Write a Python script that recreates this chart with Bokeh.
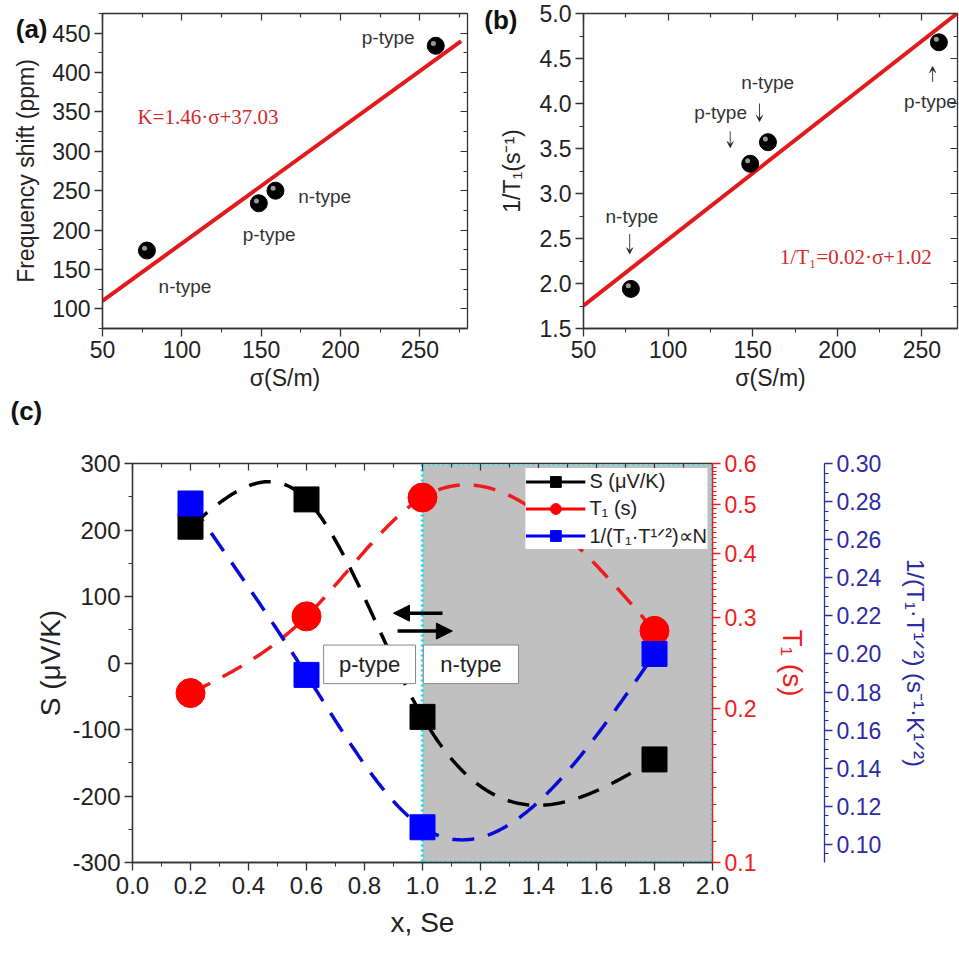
import numpy as np
from bokeh.plotting import figure
from bokeh.layouts import column, row
from bokeh.models import (Range1d, LinearAxis, LogAxis, LogScale, FixedTicker,
                          SingleIntervalTicker, PrintfTickFormatter, Label, Arrow,
                          NormalHead, VeeHead, Legend, LegendItem, Title)
from bokeh.embed import file_html
from bokeh.resources import INLINE

FONT = "Liberation Sans"
SERIF = "Liberation Serif"
INK = "#222222"

# ---------------- data: panels (a) and (b) ----------------
sigma = [78, 148.5, 159, 260]            # S/m
freq_shift = [174, 234, 250, 434]        # ppm
inv_T1 = [1.94, 3.33, 3.57, 4.68]        # 1/s
fit_a = (1.46, 37.03)                    # slope, intercept  (K = 1.46*sigma + 37.03)
fit_b = (0.0147, 1.02)                   # slope, intercept of drawn line in (b)
fit_a_span = [50, 276]
fit_b_span = [50, 271]

# ---------------- data: panel (c) ----------------
x_se = [0.2, 0.6, 1.0, 1.8]
seebeck = [205, 246, -81, -145]          # S (uV/K)
t1 = [0.214, 0.302, 0.515, 0.283]        # T1 (s)
korringa = [0.279, 0.189, 0.109, 0.200]  # 1/(T1*T^1/2)

t1_major = [0.1, 0.2, 0.3, 0.4, 0.5, 0.6]
t1_minor = [round(0.1 + 0.01 * i, 2) for i in range(51) if i % 10]


def natural_spline(xs, ys, n=300):
    xs = np.asarray(xs, float)
    ys = np.asarray(ys, float)
    k = len(xs)
    h = np.diff(xs)
    A = np.zeros((k, k))
    r = np.zeros(k)
    A[0, 0] = A[-1, -1] = 1.0
    for i in range(1, k - 1):
        A[i, i - 1] = h[i - 1]
        A[i, i] = 2 * (h[i - 1] + h[i])
        A[i, i + 1] = h[i]
        r[i] = 6 * ((ys[i + 1] - ys[i]) / h[i] - (ys[i] - ys[i - 1]) / h[i - 1])
    M = np.linalg.solve(A, r)
    xx = np.linspace(xs[0], xs[-1], n)
    idx = np.clip(np.searchsorted(xs, xx) - 1, 0, k - 2)
    x0, x1 = xs[idx], xs[idx + 1]
    hh = x1 - x0
    a = (x1 - xx) / hh
    b = (xx - x0) / hh
    yy = a * ys[idx] + b * ys[idx + 1] + ((a ** 3 - a) * M[idx] + (b ** 3 - b) * M[idx + 1]) * hh ** 2 / 6
    return xx, yy


def style_axis(ax, tick_size, title_size, color="#333333", label_color=INK):
    ax.axis_line_color = color
    ax.axis_line_width = 1.3
    ax.major_tick_line_color = color
    ax.minor_tick_line_color = color
    ax.major_tick_line_width = 1.3
    ax.major_tick_out = 8
    ax.major_tick_in = 0
    ax.minor_tick_out = 4
    ax.minor_tick_in = 0
    ax.major_label_text_font = FONT
    ax.major_label_text_font_size = tick_size
    ax.major_label_text_color = label_color
    ax.axis_label_text_font = FONT
    ax.axis_label_text_font_size = title_size
    ax.axis_label_text_font_style = "normal"
    ax.axis_label_text_color = label_color


def tick_positions(lo, hi, step):
    n = int(round((hi - lo) / step))
    return [round(lo + step * i, 6) for i in range(n + 1)]


def mirror(p, side, majors, minors, **kw):
    # inward tick marks on the opposite frame edges (no labels)
    for pos, length in ((majors, 7), (minors, 4)):
        ax = LinearAxis(ticker=FixedTicker(ticks=[], minor_ticks=pos), **kw)
        ax.axis_line_color = "#333333"
        ax.minor_tick_line_color = "#333333"
        ax.minor_tick_line_width = 1.2
        ax.minor_tick_in = length
        ax.minor_tick_out = 0
        ax.major_tick_in = 0
        ax.major_tick_out = 0
        ax.major_label_standoff = 0
        p.add_layout(ax, side)


def panel_tag(p, yval, text, standoff):
    # panel letter drawn as the single label of an extra, otherwise invisible left axis
    ax = LinearAxis(ticker=FixedTicker(ticks=[yval], minor_ticks=[]),
                    major_label_overrides={yval: text})
    ax.axis_line_color = None
    ax.major_tick_line_color = None
    ax.major_tick_out = 0
    ax.major_tick_in = 0
    ax.major_label_standoff = standoff
    ax.major_label_text_font = FONT
    ax.major_label_text_font_size = "26px"
    ax.major_label_text_font_style = "bold"
    ax.major_label_text_color = "#111111"
    p.add_layout(ax, "left")


def base_fig(width, height, xr, yr, borders):
    l, r, t, b = borders
    p = figure(width=width, height=height, x_range=xr, y_range=yr,
               output_backend="svg", toolbar_location=None,
               min_border_left=l, min_border_right=r, min_border_top=t, min_border_bottom=b)
    p.xgrid.visible = False
    p.ygrid.visible = False
    p.outline_line_color = "#333333"
    p.outline_line_width = 1.3
    p.background_fill_color = "white"
    p.border_fill_color = "white"
    return p


def note(p, x, y, text, size="19px", color="#333333", font=FONT, align="center",
         style="normal", baseline="middle"):
    p.add_layout(Label(x=x, y=y, text=text, text_font=font, text_font_size=size,
                       text_color=color, text_align=align, text_baseline=baseline,
                       text_font_style=style))


TOP_H = 432

# ======================= panel (a) =======================
pa = base_fig(480, TOP_H, Range1d(50, 280), Range1d(75, 475), (102, 13, 5, TOP_H - 328))
pa.xaxis.ticker = SingleIntervalTicker(interval=50, num_minor_ticks=2)
pa.yaxis.ticker = SingleIntervalTicker(interval=50, num_minor_ticks=2)
pa.xaxis.axis_label = "σ(S/m)"
pa.yaxis.axis_label = "Frequency shift (ppm)"
style_axis(pa.xaxis[0], "23px", "23px")
style_axis(pa.yaxis[0], "23px", "23px")
pa.xaxis.major_label_standoff = 4
pa.xaxis.axis_label_standoff = 4
pa.yaxis.major_label_standoff = 4
pa.yaxis.axis_label_standoff = 10
mirror(pa, "above", tick_positions(50, 250, 50), tick_positions(75, 275, 50))
mirror(pa, "right", tick_positions(100, 450, 50), tick_positions(75, 475, 50))
panel_tag(pa, 455, "(a)", -37)

# the "(c)" tag sits in the space under panel (a)
pa.add_layout(Title(text="(c)", align="left", offset=-92, standoff=0, text_font=FONT,
                    text_font_size="26px", text_font_style="bold", text_color="#111111"),
              "below")

fa_x = np.array(fit_a_span, float)
pa.line(fa_x, fit_a[0] * fa_x + fit_a[1], line_color="#e3191c", line_width=4)
pa.scatter(sigma, freq_shift, size=17, fill_color="black", line_color="black")
pa.scatter(np.array(sigma) - 1.5, np.array(freq_shift) + 3, size=5, fill_color="#9a9a9a",
           line_color=None)

note(pa, 230, 444, "p-type")
note(pa, 190, 243, "n-type")
note(pa, 155, 194, "p-type")
note(pa, 102, 128, "n-type")
note(pa, 72, 343, "K=1.46·σ+37.03", size="21px", color="#d42a2a", font=SERIF, align="left")

# ======================= panel (b) =======================
pb = base_fig(479, TOP_H, Range1d(50, 271), Range1d(1.5, 5.0), (103, 2, 13, TOP_H - 328))
pb.xaxis.ticker = SingleIntervalTicker(interval=50, num_minor_ticks=2)
pb.yaxis.ticker = SingleIntervalTicker(interval=0.5, num_minor_ticks=2)
pb.yaxis.formatter = PrintfTickFormatter(format="%.1f")
pb.xaxis.axis_label = "σ(S/m)"
pb.yaxis.axis_label = "1/T₁(s⁻¹)"
style_axis(pb.xaxis[0], "23px", "23px")
style_axis(pb.yaxis[0], "23px", "23px")
pb.xaxis.major_label_standoff = 4
pb.xaxis.axis_label_standoff = 4
pb.yaxis.major_label_standoff = 4
pb.yaxis.axis_label_standoff = 12
mirror(pb, "above", tick_positions(50, 250, 50), tick_positions(75, 275, 50)[:-1])
mirror(pb, "right", tick_positions(1.5, 5.0, 0.5), tick_positions(1.75, 4.75, 0.5))
panel_tag(pb, 4.93, "(b)", -22)

fb_x = np.array(fit_b_span, float)
pb.line(fb_x, fit_b[0] * fb_x + fit_b[1], line_color="#e3191c", line_width=4)
pb.scatter(sigma, inv_T1, size=17, fill_color="black", line_color="black")
pb.scatter(np.array(sigma) - 1.5, np.array(inv_T1) + 0.035, size=5, fill_color="#9a9a9a",
           line_color=None)

b_notes = [  # text x, text y, label, arrow x, arrow y0, arrow y1
    (78.6, 2.74, "n-type", 77.3, 2.55, 2.33),
    (131, 3.90, "p-type", 136.7, 3.69, 3.51),
    (158.8, 4.23, "n-type", 154, 4.00, 3.80),
    (255, 4.02, "p-type", 256.3, 4.24, 4.41),
]
for tx, ty, lab, ax_, ay0, ay1 in b_notes:
    note(pb, tx, ty, lab)
    pb.add_layout(Arrow(end=VeeHead(size=6, line_color="#444444", line_width=1),
                        x_start=ax_, y_start=ay0, x_end=ax_, y_end=ay1,
                        line_color="#444444", line_width=1))
note(pb, 166, 2.30, "1/T₁=0.02·σ+1.02", size="21px", color="#d42a2a", font=SERIF, align="left")

# ======================= panel (c) =======================
C_H = 955 - TOP_H
pc = base_fig(959, C_H, Range1d(0, 2.0), Range1d(-300, 300), (132, 247, 463 - TOP_H, 93))
pc.extra_y_ranges = {"t1": Range1d(0.1, 0.6), "kor": Range1d(0.0905, 0.30)}
pc.extra_y_scales = {"t1": LogScale()}
pc.xaxis.ticker = SingleIntervalTicker(interval=0.2, num_minor_ticks=2)
pc.xaxis.formatter = PrintfTickFormatter(format="%.1f")
pc.yaxis.ticker = SingleIntervalTicker(interval=100, num_minor_ticks=2)
pc.yaxis.formatter = PrintfTickFormatter(format="%d")
pc.xaxis.axis_label = "x, Se"
pc.yaxis.axis_label = "S (μV/K)"
style_axis(pc.xaxis[0], "24px", "28px")
style_axis(pc.yaxis[0], "24px", "28px")
pc.xaxis.major_label_standoff = 6
pc.xaxis.axis_label_standoff = 10
pc.yaxis.major_label_standoff = 4
pc.yaxis.axis_label_standoff = 3
mirror(pc, "above", tick_positions(0, 2.0, 0.2), tick_positions(0.1, 1.9, 0.2))

RED = "#ee1c1c"
BLUE_AX = "#2b2ba6"
ax_t1 = LogAxis(y_range_name="t1", ticker=FixedTicker(ticks=t1_major, minor_ticks=t1_minor),
                formatter=PrintfTickFormatter(format="%.1f"), axis_label="T₁ (s)")
style_axis(ax_t1, "23px", "28px", color=RED, label_color=RED)
ax_t1.major_label_standoff = 4
ax_t1.axis_label_standoff = 18
pc.add_layout(ax_t1, "right")

# spacer between the two right-hand axes: one white tick, no label
spacer = LinearAxis(y_range_name="kor", ticker=FixedTicker(ticks=[0.2], minor_ticks=[]),
                    major_label_overrides={0.2: ""})
spacer.axis_line_color = "white"
spacer.axis_line_width = 1
spacer.major_tick_line_color = "white"
spacer.major_tick_out = 13
spacer.major_tick_in = 0
spacer.major_label_standoff = 0
pc.add_layout(spacer, "right")

ax_kor = LinearAxis(y_range_name="kor", ticker=SingleIntervalTicker(interval=0.02, num_minor_ticks=4),
                    formatter=PrintfTickFormatter(format="%.2f"),
                    axis_label="1/(T₁·T¹ᐟ²) (s⁻¹·K¹ᐟ²)")
style_axis(ax_kor, "23px", "24px", color=BLUE_AX, label_color=BLUE_AX)
ax_kor.major_label_standoff = 4
ax_kor.axis_label_standoff = 18
pc.add_layout(ax_kor, "right")

# shaded n-type region
pc.quad(left=[1.0], right=[2.0], bottom=[-300], top=[300], fill_color="#c0c0c0",
        line_color="#12e2f0", line_width=3.5, line_dash="2 3")

# dashed spline curves
sx, sy = natural_spline(x_se, seebeck)
pc.line(sx, sy, line_color="black", line_width=3.5, line_dash="22 14")
tx_, ty_ = natural_spline(x_se, np.log10(t1))
pc.line(tx_, 10 ** ty_, y_range_name="t1", line_color=RED, line_width=3.5, line_dash="22 14")
kx, ky = natural_spline(x_se, korringa)
pc.line(kx, ky, y_range_name="kor", line_color="#0a0ad8", line_width=3.5, line_dash="22 14")

# markers
pc.scatter(x_se, seebeck, marker="square", size=25, fill_color="black", line_color="black")
pc.scatter(x_se, t1, y_range_name="t1", marker="circle", size=29, fill_color="#ff0000",
           line_color="#ff0000")
pc.scatter(x_se, korringa, y_range_name="kor", marker="square", size=25, fill_color="#0000ff",
           line_color="#0000ff")

# p-type / n-type boxes
type_boxes = [(0.659, 0.976, "p-type"), (1.003, 1.331, "n-type")]
for lft, rgt, lab in type_boxes:
    pc.quad(left=[lft], right=[rgt], bottom=[-31], top=[27], fill_color="white",
            line_color="#8a8a8a", line_width=1)
    note(pc, (lft + rgt) / 2, -2, lab, size="22px", color=INK)

# arrows
pc.add_layout(Arrow(end=NormalHead(size=16, fill_color="black", line_color="black"),
                    x_start=1.069, y_start=75, x_end=0.900, y_end=75,
                    line_color="black", line_width=3.5))
pc.add_layout(Arrow(end=NormalHead(size=16, fill_color="black", line_color="black"),
                    x_start=0.914, y_start=48, x_end=1.103, y_end=48,
                    line_color="black", line_width=3.5))

# legend (solid line + marker)
leg_specs = [("S (μV/K)", "black", "square", 18, None),
             ("T₁ (s)", "#ff0000", "circle", 20, "t1"),
             ("1/(T₁·T¹ᐟ²)∝N", "#0000ff", "square", 18, "kor")]
items = []
for lab, col, mk, sz, rn in leg_specs:
    kw = {"y_range_name": rn} if rn else {}
    lr = pc.line(x=[np.nan], y=[np.nan], line_color=col, line_width=3, **kw)
    sr = pc.scatter(x=[np.nan], y=[np.nan], marker=mk, size=sz, fill_color=col,
                    line_color=col, **kw)
    items.append(LegendItem(label=lab, renderers=[lr, sr]))
legend = Legend(items=items, location="top_right", border_line_color=None,
                background_fill_color="white", background_fill_alpha=1.0,
                label_text_font=FONT, label_text_font_size="20px", label_text_color=INK,
                glyph_width=60, glyph_height=27, label_height=22, spacing=0,
                padding=4, margin=5, label_standoff=4)
pc.add_layout(legend)

layout = column(row(pa, pb), pc)
with open("out.html", "w") as f:
    f.write(file_html(layout, INLINE))
